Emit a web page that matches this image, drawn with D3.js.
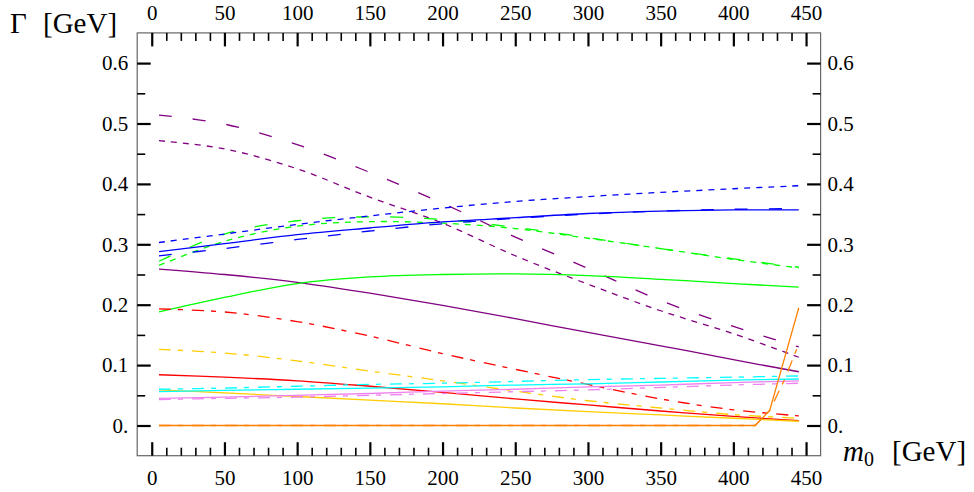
<!DOCTYPE html>
<html>
<head>
<meta charset="utf-8">
<script src="https://cdn.jsdelivr.net/npm/d3@7"></script>
<style>
  body { margin: 0; background: #fff; }
  svg { display: block; }
  svg text { font-family: "Liberation Serif", "Times New Roman", serif; }
</style>
</head>
<body>
<svg id="chart" width="974" height="492"></svg>
<script>
// m0 sample points (GeV) shared by the smooth width curves
const m0 = [5, 50, 100, 150, 200, 250, 300, 350, 400, 445];

// decay widths Γ (GeV)
const purpleLongDash  = [0.514, 0.499, 0.465, 0.419, 0.368, 0.312, 0.260, 0.207, 0.164, 0.130];
const purpleShortDash = [0.4715, 0.458, 0.425, 0.378, 0.335, 0.281, 0.234, 0.190, 0.152, 0.113];
const purpleSolid     = [0.259, 0.250, 0.237, 0.219, 0.199, 0.177, 0.154, 0.132, 0.109, 0.089];
const blueShortDash   = [0.303, 0.317, 0.333, 0.347, 0.360, 0.371, 0.379, 0.386, 0.392, 0.397];
const blueSolid       = [0.288, 0.301, 0.316, 0.327, 0.337, 0.344, 0.351, 0.355, 0.357, 0.357];
const blueLongDash    = [0.281, 0.293, 0.308, 0.322, 0.334, 0.343, 0.350, 0.355, 0.358, 0.359];
const greenSolid      = [0.188, 0.212, 0.235, 0.246, 0.250, 0.251, 0.248, 0.242, 0.235, 0.229];
const greenLongDash   = [0.272, 0.317, 0.339, 0.3455, 0.341, 0.328, 0.311, 0.293, 0.276, 0.262];
const greenShortDash  = [0.265, 0.305, 0.330, 0.3375, 0.335, 0.326, 0.310, 0.293, 0.275, 0.261];
const redDash         = [0.193, 0.188, 0.172, 0.148, 0.119, 0.093, 0.068, 0.044, 0.026, 0.016];
const redSolid        = [0.084, 0.080, 0.074, 0.065, 0.055, 0.044, 0.034, 0.024, 0.015, 0.008];
const goldDash        = [0.126, 0.120, 0.107, 0.090, 0.074, 0.057, 0.041, 0.029, 0.018, 0.012];
const goldSolid       = [0.059, 0.054, 0.048, 0.042, 0.036, 0.029, 0.023, 0.0175, 0.012, 0.007];
const cyanSolid       = [0.056, 0.058, 0.060, 0.062, 0.064, 0.067, 0.069, 0.072, 0.075, 0.077];
const cyanDash        = [0.060, 0.062, 0.065, 0.068, 0.070, 0.073, 0.076, 0.078, 0.080, 0.082];
const violetSolid     = [0.045, 0.047, 0.050, 0.053, 0.057, 0.060, 0.064, 0.067, 0.071, 0.074];
const violetDash      = [0.043, 0.045, 0.047, 0.050, 0.053, 0.056, 0.059, 0.063, 0.067, 0.070];

// the orange channel opens only near the upper end, so it has its own grid
const m0Orange        = [5, 100, 200, 300, 400, 415, 425, 435, 445];
const orangeSolid     = [0, 0, 0, 0, 0, 0, 0.025, 0.110, 0.195];
const orangeDash      = [0, 0, 0, 0, 0, 0, 0.025, 0.075, 0.135];

// axis ticks
const xMajorTicks = [0, 50, 100, 150, 200, 250, 300, 350, 400, 450];
const yMajorTicks = [0, 0.1, 0.2, 0.3, 0.4, 0.5, 0.6];

const COLORS = {
  purple: "#800080", blue: "#0000ff", green: "#00ff00", red: "#ff0000",
  gold: "#ffcc00", cyan: "#00ffff", violet: "#ee82ee", orange: "#ff8000"
};
const DASH = { solid: null, long: "13,21", short: "6,6", mixed: "12,7,5,9" };

const series = [
  { xs: m0, ys: purpleLongDash,  color: COLORS.purple, dash: DASH.long },
  { xs: m0, ys: purpleShortDash, color: COLORS.purple, dash: DASH.short },
  { xs: m0, ys: purpleSolid,     color: COLORS.purple, dash: DASH.solid },
  { xs: m0, ys: greenSolid,      color: COLORS.green,  dash: DASH.solid },
  { xs: m0, ys: greenLongDash,   color: COLORS.green,  dash: DASH.long },
  { xs: m0, ys: greenShortDash,  color: COLORS.green,  dash: DASH.short },
  { xs: m0, ys: blueShortDash,   color: COLORS.blue,   dash: DASH.short },
  { xs: m0, ys: blueLongDash,    color: COLORS.blue,   dash: DASH.long },
  { xs: m0, ys: blueSolid,       color: COLORS.blue,   dash: DASH.solid },
  { xs: m0, ys: redDash,         color: COLORS.red,    dash: DASH.mixed },
  { xs: m0, ys: redSolid,        color: COLORS.red,    dash: DASH.solid },
  { xs: m0, ys: goldDash,        color: COLORS.gold,   dash: DASH.mixed },
  { xs: m0, ys: goldSolid,       color: COLORS.gold,   dash: DASH.solid },
  { xs: m0, ys: violetDash,      color: COLORS.violet, dash: DASH.mixed },
  { xs: m0, ys: violetSolid,     color: COLORS.violet, dash: DASH.solid },
  { xs: m0, ys: cyanSolid,       color: COLORS.cyan,   dash: DASH.solid },
  { xs: m0, ys: cyanDash,        color: COLORS.cyan,   dash: DASH.mixed },
  { xs: m0Orange, ys: orangeDash,  color: COLORS.orange, dash: DASH.mixed, linear: true },
  { xs: m0Orange, ys: orangeSolid, color: COLORS.orange, dash: DASH.solid, linear: true }
];

const FONT = "'Liberation Serif', 'Times New Roman', serif";
const svg = d3.select("#chart");

const x = d3.scaleLinear().domain([-10, 460]).range([137.2, 820.6]);
const y = d3.scaleLinear().domain([-0.05, 0.65]).range([455.7, 32.9]);

const [x0, x1] = x.range();
const [yBottom, yTop] = y.range();

// curves
const plot = svg.append("g");
series.forEach(s => {
  const pts = s.xs.map((m, i) => [m, s.ys[i]]);
  const line = d3.line()
    .x(d => x(d[0]))
    .y(d => y(d[1]))
    .curve(s.linear ? d3.curveLinear : d3.curveCatmullRom.alpha(0.5));
  plot.append("path")
    .attr("d", line(pts))
    .attr("fill", "none")
    .attr("stroke", s.color)
    .attr("stroke-width", 1.3)
    .attr("stroke-dasharray", s.dash);
});

// frame
svg.append("rect")
  .attr("x", x0).attr("y", yTop)
  .attr("width", x1 - x0).attr("height", yBottom - yTop)
  .attr("fill", "none").attr("stroke", "#666").attr("stroke-width", 1.2);

const xMinorTicks = d3.range(10, 450, 10).filter(v => v % 50 !== 0);
const yMinorTicks = d3.range(0.05, 0.6, 0.1).map(v => +v.toFixed(2));
const fmtX = d3.format("d");
const fmtY = d => (d === 0 ? "0." : d3.format(".1f")(d));

function drawAxis(axisFn, scale, transform, major, minor, fmt, pad) {
  const gMinor = svg.append("g").attr("transform", transform)
    .call(axisFn(scale).tickValues(minor).tickSize(-8).tickFormat(""));
  gMinor.select(".domain").remove();
  gMinor.selectAll(".tick line").attr("stroke", "#000").attr("stroke-width", 1.6);

  const gMajor = svg.append("g").attr("transform", transform)
    .call(axisFn(scale).tickValues(major).tickSize(-13.5).tickPadding(pad).tickFormat(fmt));
  gMajor.attr("font-family", FONT).attr("font-size", 21);
  gMajor.select(".domain").remove();
  gMajor.selectAll(".tick line").attr("stroke", "#000").attr("stroke-width", 2.2);
  gMajor.selectAll(".tick text").attr("fill", "#000").style("font-family", FONT);
  return gMajor;
}

drawAxis(d3.axisBottom, x, `translate(0,${yBottom})`, xMajorTicks, xMinorTicks, fmtX, 14);
drawAxis(d3.axisTop, x, `translate(0,${yTop})`, xMajorTicks, xMinorTicks, fmtX, 13);
drawAxis(d3.axisLeft, y, `translate(${x0},0)`, yMajorTicks, yMinorTicks, fmtY, 9);
drawAxis(d3.axisRight, y, `translate(${x1},0)`, yMajorTicks, yMinorTicks, fmtY, 7);

// axis titles
const yTitle = svg.append("text")
  .attr("font-size", 29).attr("fill", "#000")
  .attr("y", 33);
yTitle.append("tspan").attr("x", 10).text("Γ");
yTitle.append("tspan").attr("x", 43).text("[GeV]");

const xTitle = svg.append("text")
  .attr("font-size", 29).attr("fill", "#000")
  .attr("y", 461);
xTitle.append("tspan").attr("x", 843).attr("font-style", "italic").text("m");
xTitle.append("tspan").attr("font-size", 20).attr("dy", 5).text("0");
xTitle.append("tspan").attr("x", 892).attr("dy", -5).text("[GeV]");
</script>
</body>
</html>
